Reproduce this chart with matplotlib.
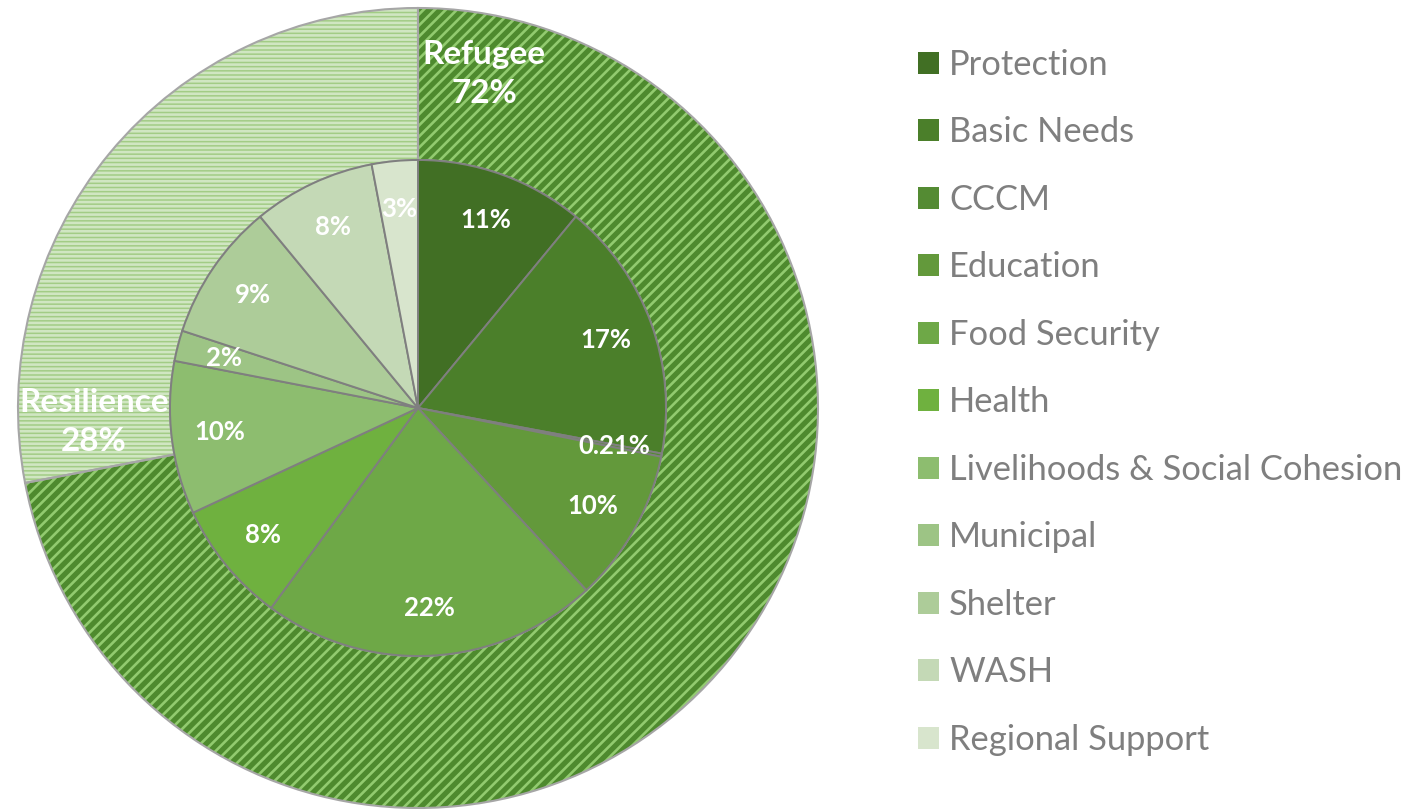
import matplotlib
matplotlib.use('Agg')
import matplotlib.pyplot as plt
from matplotlib.patches import Patch
import numpy as np

plt.rcParams['font.family'] = ['Lato', 'DejaVu Sans']
plt.rcParams['hatch.linewidth'] = 1.9

# 外环：分组
groups = ['Refugee', 'Resilience']
group_values = [72, 28]
group_labels = ['Refugee\n72%', 'Resilience\n28%']
group_colors = ['#4e8a2e', '#a2cc85']
group_hatches = ['///', '----']
group_hatch_colors = ['#92cb6f', '#d0e6c2']

# 内饼：部门
sectors = ['Protection', 'Basic Needs', 'CCCM', 'Education', 'Food Security', 'Health',
           'Livelihoods & Social Cohesion', 'Municipal', 'Shelter', 'WASH', 'Regional Support']
sector_values = [11, 17, 0.21, 10, 22, 8, 10, 2, 9, 8, 3]
sector_labels = ['11%', '17%', '0.21%', '10%', '22%', '8%', '10%', '2%', '9%', '8%', '3%']
sector_colors = ['#416f24', '#4b7f2a', '#548b33', '#63993b', '#6ea847', '#6fb13f',
                 '#8dbd6f', '#9dc485', '#adcc99', '#c4d9b6', '#d8e5cd']

inner_r = 0.62

fig = plt.figure(figsize=(14.06, 8.11), dpi=100)
ax = fig.add_axes([18 / 1406, 3 / 811, 800 / 1406, 800 / 811])

# 外环（带纹理）
wedges_o, _ = ax.pie(group_values, radius=1, startangle=90, counterclock=False,
                     colors=group_colors,
                     wedgeprops=dict(width=1 - inner_r, linewidth=0))
for w, h, hc in zip(wedges_o, group_hatches, group_hatch_colors):
    w.set_hatch(h)
    w.set_edgecolor(hc)
    w.set_linewidth(0)
ax.pie(group_values, radius=1, startangle=90, counterclock=False,
       wedgeprops=dict(width=1 - inner_r, fill=False, edgecolor='#a6a6a6', linewidth=1.5))

# 内饼
wedges_i, _ = ax.pie(sector_values, radius=inner_r, startangle=90, counterclock=False,
                     colors=sector_colors,
                     wedgeprops=dict(edgecolor='#7f7f7f', linewidth=1.4))

for w, lab in zip(wedges_i, sector_labels):
    ang = np.deg2rad((w.theta1 + w.theta2) / 2)
    r = 0.5
    ax.text(r * np.cos(ang), r * np.sin(ang), lab, ha='center', va='center',
            color='white', fontsize=18.5, fontweight='bold')

# 外环标签（位置手动调整，与原图一致）
group_label_pos = [(0.165, 0.835), (-0.81, -0.035)]
for (x, y), lab in zip(group_label_pos, group_labels):
    ax.text(x, y, lab, ha='center', va='center', color='white',
            fontsize=24, fontweight='bold', linespacing=1.4)

ax.set_xlim(-1, 1)
ax.set_ylim(-1, 1)
ax.set_aspect('equal')
ax.axis('off')

handles = [Patch(facecolor=c, edgecolor='none') for c in sector_colors]
fig.legend(handles, sectors, loc='upper left', bbox_to_anchor=(918 / 1406, 1 - 49 / 811),
           frameon=False, fontsize=24.8, labelcolor='#7f7f7f',
           handlelength=0.6, handleheight=0.6, handletextpad=0.3,
           labelspacing=1.03, borderpad=0, borderaxespad=0)

plt.savefig('out.png', dpi=100)
plt.close()
